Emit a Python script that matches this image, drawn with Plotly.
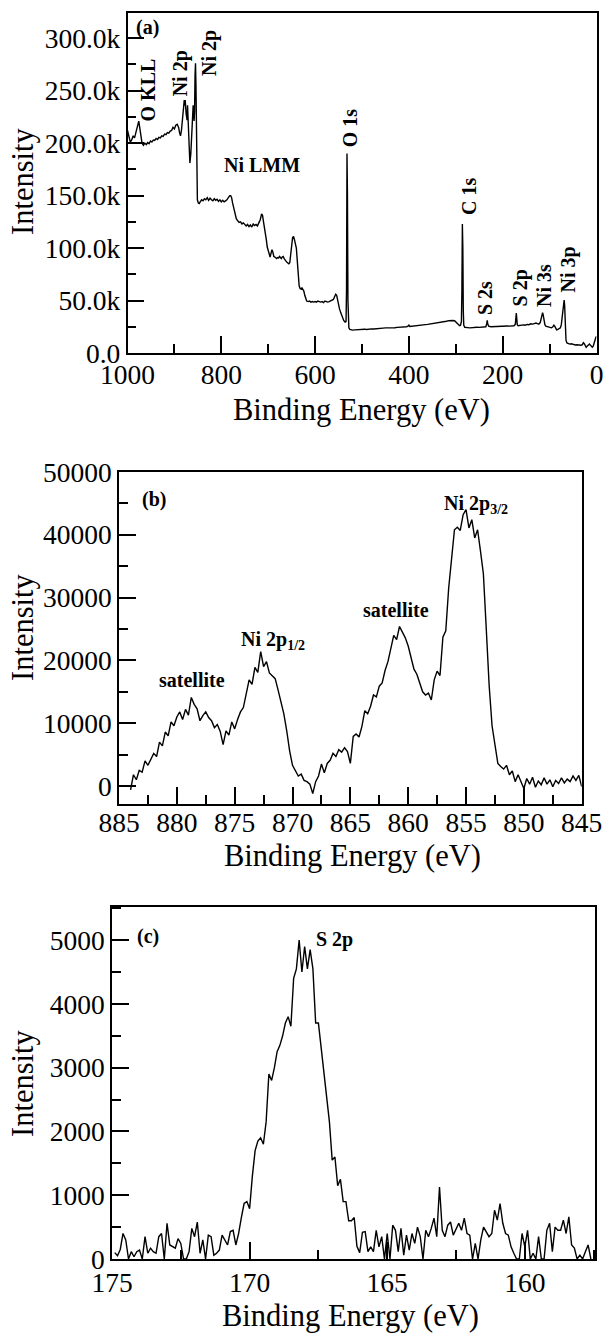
import plotly.graph_objects as go

# ---------------- Panel (a): survey spectrum ----------------
be_a = [1000, 997, 994, 991, 988, 985, 982, 979, 976, 974, 972, 969, 966, 963, 960, 957, 954, 951, 948, 945,
        942, 939, 936, 933, 930, 927, 924, 921, 918, 915, 912, 909, 906, 903, 900, 897, 894, 891, 889, 887,
        885, 883, 881, 879, 878, 877, 875, 873, 872, 871, 869, 867, 865, 863, 861, 860, 859, 858, 857, 856,
        855, 854, 853, 852, 851, 849, 847, 845, 842, 839, 836, 833, 830, 827, 824, 821, 818, 815, 812, 809,
        806, 803, 800, 797, 794, 791, 788, 785, 782, 780, 778, 776, 774, 772, 770, 768, 765, 762, 759, 756,
        753, 750, 747, 744, 741, 738, 735, 732, 729, 726, 723, 720, 717, 714, 712, 710, 708, 706, 704, 702,
        700, 698, 696, 694, 692, 690, 688, 686, 684, 682, 680, 678, 676, 674, 672, 670, 668, 666, 664, 662,
        660, 658, 656, 654, 652, 650, 648, 646, 644, 642, 640, 638, 636, 634, 632, 630, 628, 626, 624, 622,
        620, 618, 615, 612, 609, 606, 603, 600, 597, 594, 591, 588, 585, 582, 579, 576, 573, 570, 567, 564,
        561, 558, 556, 554, 551, 548, 545, 542, 539, 536, 534, 533, 532, 531, 530, 529, 528, 526, 523, 520,
        515, 510, 505, 500, 495, 490, 485, 480, 475, 470, 465, 460, 455, 450, 445, 440, 435, 430, 425, 420,
        415, 410, 405, 402, 400, 398, 395, 390, 385, 380, 375, 370, 365, 360, 355, 350, 345, 340, 335, 330,
        325, 320, 315, 310, 306, 302, 298, 295, 292, 290, 288, 287, 286, 285, 284, 283, 281, 278, 275, 270,
        265, 260, 255, 250, 245, 240, 236, 234, 233, 232, 230, 225, 220, 215, 210, 205, 200, 195, 190, 185,
        180, 176, 173, 171, 170, 169, 167, 164, 160, 156, 152, 148, 144, 140, 136, 132, 129, 126, 123, 120,
        118, 116, 115, 114, 112, 110, 108, 105, 102, 99, 96, 93, 91, 89, 87, 85, 83, 80, 77, 75,
        73, 71, 69, 68, 67, 66, 65, 63, 60, 57, 54, 51, 48, 45, 42, 39, 36, 33, 30, 28,
        26, 24, 22, 20, 18, 15, 13, 11, 9, 7, 5, 3, 1, 0]
int_a = [212000, 206000, 201000, 203000, 207000, 205000, 211000, 216000, 221000, 215000, 207000, 200000, 198000, 200000, 198500, 200500, 199500, 202000, 201000, 203000,
         202500, 204500, 203500, 205500, 205000, 207000, 206500, 208500, 208000, 210000, 209500, 211500, 212000, 215000, 213500, 217000, 218000, 215000, 210000, 207000,
         212000, 225000, 238000, 241000, 236000, 241000, 228000, 222000, 236000, 225000, 195000, 181000, 190000, 207000, 228000, 236000, 232000, 221000, 230000, 265000,
         276000, 255000, 215000, 170000, 146000, 143000, 142500, 144000, 146000, 145000, 147000, 146000, 148000, 145500, 147500, 146000, 145000, 147000, 145500, 146500,
         144500, 146000, 144000, 145500, 144000, 145000, 146000, 148000, 150000, 150000, 148000, 143000, 139000, 133000, 129000, 128000, 126000, 124500, 125000, 123000,
         124000, 122500, 121000, 122500, 120500, 122000, 120000, 123000, 121500, 122500, 121000, 124000, 127000, 132500, 131000, 125000, 120000, 116000, 108000, 101000,
         98000, 93000, 91500, 95000, 98500, 96000, 92000, 91500, 90500, 90000, 91000, 90500, 92000, 91000, 90000, 91500, 92000, 90000, 88000, 87500,
         86500, 86000, 85000, 86000, 92000, 102000, 110000, 111000, 108000, 104000, 100000, 88000, 72000, 64000, 61500, 61000, 62000, 60500, 59000, 55000,
         51000, 49500, 49000, 49500, 48500, 49000, 48500, 49000, 48500, 49500, 49000, 48500, 49000, 48000, 49500, 49000, 48500, 49000, 49500, 50000,
         51000, 54000, 56000, 55000, 48000, 42000, 38000, 34000, 31000, 29500, 30000, 60000, 190000, 150000, 50000, 28000, 24000, 22500, 22000, 21800,
         22000, 22300, 22100, 22500, 22700, 22400, 22800, 23000, 22800, 23200, 23400, 23300, 23700, 23900, 23800, 24100, 24200, 24000, 24400, 24500,
         24300, 24800, 25000, 25500, 26500, 25300, 25400, 25700, 26000, 26200, 26500, 26800, 27000, 27300, 27600, 28000, 28300, 28500, 28800, 29300,
         29800, 30300, 30800, 31200, 31000, 30500, 29000, 27000, 26000, 26500, 30000, 60000, 123000, 100000, 40000, 26500, 24500, 24000, 24200, 23900,
         24300, 24100, 24500, 24400, 24700, 24600, 25000, 28000, 31000, 28000, 25500, 25000, 25200, 25100, 25400, 25300, 25600, 25500, 25800, 25600,
         25900, 26000, 27500, 38000, 33000, 27000, 26000, 26300, 26100, 26800, 26500, 27200, 27000, 27800, 27500, 28000, 28600, 28000, 27500, 29000,
         32000, 36000, 38500, 37000, 31000, 27000, 25500, 25000, 24500, 24200, 24000, 25000, 26500, 25500, 23000, 22000, 22200, 23000, 24000, 27000,
         34000, 44000, 50500, 46000, 35000, 20000, 12000, 9500, 9000, 8500, 8800, 8200, 7800, 7600, 7900, 7500, 7800, 7400, 8000, 9800,
         9000, 7000, 5500, 6500, 7500, 8600, 7500, 6000, 5500, 6500, 10000, 13500, 15500, 15000]
ytick_a_vals = [0, 50000, 100000, 150000, 200000, 250000, 300000]
ytick_a_text = ["0.0", "50.0k", "100.0k", "150.0k", "200.0k", "250.0k", "300.0k"]
xtick_a_vals = [1000, 800, 600, 400, 200, 0]

# ---------------- Panel (b): Ni 2p region ----------------
b_start, b_step = 884.0, 0.25
int_b = [-600, 1800, 1000, 2500, 2200, 4000, 3300, 4300,
         5200, 4700, 7000, 6400, 8600, 8000, 10200, 9600,
         11000, 11800, 10600, 12200, 11300, 14100, 13000, 12300,
         10400, 11200, 11800, 10900, 10400, 9300, 9800, 8700,
         6600, 8800, 8100, 10200, 9100, 10600, 11800, 12500,
         14600, 16900, 16200, 18900, 18100, 21400, 19000, 19800,
         18000, 17600, 17100, 15300, 13600, 11500, 8800, 5600,
         3300, 2400, 1600, 1900, 900, 700, 300, -1200,
         700, 1600, 3500, 2100, 3600, 4100, 5200, 4700,
         5800, 5400, 6100, 5500, 3600, 7900, 8300, 7800,
         9500, 12000, 11500, 12700, 14500, 14200, 15900, 16400,
         18400, 19800, 21700, 24000, 23300, 25400, 24500, 23600,
         22300, 20500, 18600, 17800, 16200, 15000, 14500, 14800,
         13700, 16900, 18300, 17600, 23700, 24700, 31500, 35800,
         40800, 41200, 40700, 43200, 44000, 41100, 42400, 39500,
         40800, 37400, 33800, 25000, 16000, 9600, 6500, 3600,
         3100, 2700, 3300, 1800, 2400, 700, 1800, 600,
         -400, 1200, 300, 1400, -200, 800, 200, 1300,
         300, 1000, -100, 900, 400, 1300, 500, 1100,
         700, 1600, 900, 1700, -100]
be_b = [round(b_start - b_step * i, 2) for i in range(len(int_b))]
ytick_b_vals = [0, 10000, 20000, 30000, 40000, 50000]

# ---------------- Panel (c): S 2p region ----------------
c_start, c_step = 174.9, 0.1
int_c = [100, 50, 150, 400, 300, 0, 115, 35, 115, 140,
         0, 350, 90, 170, 115, 90, 350, 400, 0, 560,
         220, 190, 170, 320, 245, 0, 0, 115, 480, 350,
         580, 90, 300, 0, 375, 350, 60, 90, 140, 375,
         300, 220, 430, 450, 220, 400, 650, 870, 900, 790,
         1300, 1700, 1850, 1900, 1800, 2150, 2900, 2800, 3000, 3250,
         3350, 3500, 3700, 3800, 3650, 4400, 4550, 5000, 4500, 4900,
         4550, 4850, 4550, 3700, 3700, 3300, 2900, 2500, 2150, 1550,
         1600, 1150, 1250, 900, 900, 600, 600, 650, 200, 100,
         420, 430, 115, 190, 115, 450, 190, 350, 0, 400,
         0, 530, 450, 115, 480, 60, 375, 140, 400, 245,
         500, 350, 0, 450, 350, 480, 640, 350, 1130, 450,
         350, 530, 580, 375, 480, 560, 450, 640, 400, 375,
         0, 245, 0, 300, 500, 430, 350, 400, 765, 610,
         870, 560, 400, 375, 190, 90, 0, 0, 400, 190,
         450, 0, 90, 0, 350, 0, 0, 450, 560, 115,
         500, 450, 450, 610, 400, 660, 220, 170, 0, 60,
         0, 115, 220, 0]
be_c = [round(c_start - c_step * i, 2) for i in range(len(int_c))]

W, H = 606, 1336
FONT = "Liberation Serif, Times New Roman, Times, serif"
TICK_SIZE = 27.5
TITLE_SIZE = 30.5
ANN_SIZE = 20


def px_dom(a, b, total, flip=False):
    if flip:
        return [1 - b / total, 1 - a / total]
    return [a / total, b / total]


fig = go.Figure()
line = dict(color="black", width=1.4)
fig.add_trace(go.Scatter(x=be_a, y=int_a, mode="lines", line=line, xaxis="x", yaxis="y", showlegend=False))
fig.add_trace(go.Scatter(x=be_b, y=int_b, mode="lines", line=line, xaxis="x2", yaxis="y2", showlegend=False))
fig.add_trace(go.Scatter(x=be_c, y=int_c, mode="lines", line=line, xaxis="x3", yaxis="y3", showlegend=False))

common = dict(showline=True, linecolor="black", linewidth=1.5, mirror=True, ticks="inside",
              ticklen=17, tickwidth=1.5, tickcolor="black", showgrid=False, zeroline=False,
              tickfont=dict(family=FONT, size=TICK_SIZE, color="black"))


def minor(d):
    return dict(ticks="inside", ticklen=9, tickwidth=1.5, tickcolor="black", dtick=d, showgrid=False)


fig.update_layout(
    width=W, height=H, plot_bgcolor="white", paper_bgcolor="white",
    font=dict(family=FONT, color="black"),
    margin=dict(l=0, r=0, t=0, b=0, autoexpand=False),
    xaxis=dict(common, domain=px_dom(127.5, 596.5, W), range=[1000, 0], anchor="y",
               tickvals=xtick_a_vals, ticktext=[str(v) for v in xtick_a_vals], minor=minor(100),
               ticklabelstandoff=-4),
    yaxis=dict(common, domain=px_dom(13, 353, H, True), range=[0, 324000], anchor="x",
               tickvals=ytick_a_vals, ticktext=ytick_a_text, minor=minor(25000)),
    xaxis2=dict(common, domain=px_dom(119, 581.7, W), range=[885, 845], anchor="y2",
                dtick=5, minor=minor(2.5), ticklabelstandoff=-7),
    yaxis2=dict(common, domain=px_dom(472, 804, H, True), range=[-2860, 50000], anchor="x2",
                tickvals=ytick_b_vals, ticktext=[str(v) for v in ytick_b_vals], minor=dict(minor(5000), tick0=0)),
    xaxis3=dict(common, domain=px_dom(112, 595, W), range=[175, 157.45], anchor="y3",
                dtick=5, minor=minor(2.5), ticklabelstandoff=-2),
    yaxis3=dict(common, domain=px_dom(907, 1259, H, True), range=[0, 5520], anchor="x3",
                dtick=1000, minor=minor(500)),
)

anns = []


def title(text, x, y, angle=0):
    anns.append(dict(text=text, x=x / W, y=1 - y / H, xref="paper", yref="paper", showarrow=False,
                     textangle=angle, xanchor="center", yanchor="middle",
                     font=dict(family=FONT, size=TITLE_SIZE, color="black")))


title("Binding Energy (eV)", 361, 410)
title("Intensity", 23, 182, -90)
title("Binding Energy (eV)", 352, 856)
title("Intensity", 23, 628, -90)
title("Binding Energy (eV)", 350, 1316)
title("Intensity", 23, 1084, -90)


def lab(text, x, y, ax, ay, angle=0):
    anns.append(dict(text="<b>" + text + "</b>", x=x, y=y, xref=ax, yref=ay, showarrow=False,
                     textangle=angle, xanchor="center", yanchor="middle",
                     font=dict(family=FONT, size=ANN_SIZE, color="black")))


lab("(a)", 957, 310000, "x", "y")
lab("O KLL", 955.6, 250500, "x", "y", -90)
lab("Ni 2p", 887, 266000, "x", "y", -90)
lab("Ni 2p", 824, 286000, "x", "y", -90)
lab("Ni LMM", 714, 179000, "x", "y")
lab("O 1s", 525.6, 215000, "x", "y", -90)
lab("C 1s", 272, 149500, "x", "y", -90)
lab("S 2s", 236.3, 52000, "x", "y", -90)
lab("S 2p", 163, 61600, "x", "y", -90)
lab("Ni 3s", 112, 64800, "x", "y", -90)
lab("Ni 3p", 60, 80000, "x", "y", -90)

lab("(b)", 882, 45700, "x2", "y2")
lab("satellite", 878.66, 16900, "x2", "y2")
lab("Ni 2p<sub>1/2</sub>", 871.65, 23200, "x2", "y2")
lab("satellite", 861.06, 28100, "x2", "y2")
lab("Ni 2p<sub>3/2</sub>", 854.15, 44800, "x2", "y2")

lab("(c)", 173.7, 5063, "x3", "y3")
lab("S 2p", 166.9, 5015, "x3", "y3")

fig.update_layout(annotations=anns)
fig.write_html("out.html", config={"displayModeBar": False},
               post_script="document.body.style.margin='0';document.body.style.overflow='hidden';")
